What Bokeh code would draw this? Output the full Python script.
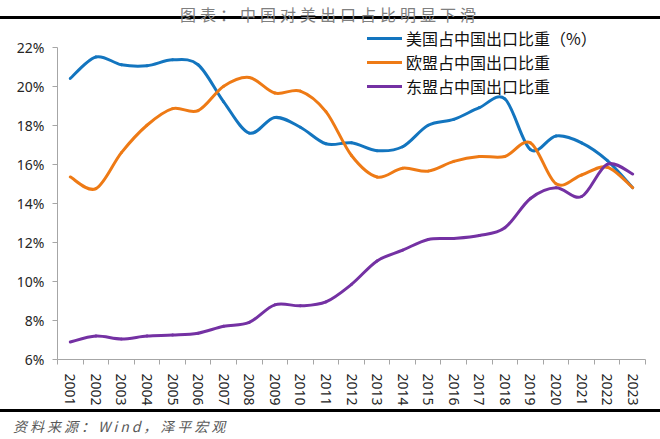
from bokeh.plotting import figure
from bokeh.models import (Div, Range1d, FixedTicker, PrintfTickFormatter,
                          ColumnDataSource)
from bokeh.layouts import column
from bokeh.embed import file_html
from bokeh.resources import INLINE

# ---------------- data ----------------
years = list(range(2001, 2024))
year_labels = [str(y) for y in years]
us_share = [20.4, 21.5, 21.1, 21.05, 21.35, 21.1, 19.2, 17.6, 18.4, 17.9, 17.05, 17.1,
            16.7, 16.9, 18.0, 18.3, 18.9, 19.35, 16.75, 17.45, 17.1, 16.2, 14.8]
eu_share = [15.35, 14.75, 16.6, 18.0, 18.85, 18.75, 20.0, 20.45, 19.65, 19.75, 18.7, 16.45,
            15.35, 15.8, 15.65, 16.15, 16.4, 16.4, 17.1, 15.0, 15.45, 15.85, 14.8]
asean_share = [6.9, 7.2, 7.05, 7.2, 7.25, 7.35, 7.7, 7.9, 8.8, 8.75, 8.95, 9.85,
               11.05, 11.6, 12.15, 12.2, 12.35, 12.75, 14.25, 14.8, 14.35, 16.0, 15.5]
series_names = ["美国占中国出口比重（%）", "欧盟占中国出口比重", "东盟占中国出口比重"]
y_ticks = [6, 8, 10, 12, 14, 16, 18, 20, 22]
title_text = "图表：中国对美出口占比明显下滑"
source_text = "资料来源：Wind，泽平宏观"

colors = ["#1375BF", "#EE7A15", "#7431A3"]
CJK = "Noto Sans CJK SC"
LAT = "Noto Sans"
AXIS_GRAY = "#a6a6a6"


def smooth_source(xs, ys):
    """Cubic Bezier segments (Catmull-Rom style) through the data points."""
    n = len(xs)
    d = dict(x0=[], y0=[], x1=[], y1=[], cx0=[], cy0=[], cx1=[], cy1=[])
    for i in range(n - 1):
        xp, yp = (xs[i - 1], ys[i - 1]) if i > 0 else (xs[i], ys[i])
        xn, yn = (xs[i + 2], ys[i + 2]) if i + 2 < n else (xs[i + 1], ys[i + 1])
        d["x0"].append(xs[i]); d["y0"].append(ys[i])
        d["x1"].append(xs[i + 1]); d["y1"].append(ys[i + 1])
        d["cx0"].append(xs[i] + (xs[i + 1] - xp) / 6.0)
        d["cy0"].append(ys[i] + (ys[i + 1] - yp) / 6.0)
        d["cx1"].append(xs[i + 1] - (xn - xs[i]) / 6.0)
        d["cy1"].append(ys[i + 1] - (yn - ys[i]) / 6.0)
    return ColumnDataSource(d)


# layout constants
PAGE_W = 660
FIG_H = 382
BORDER_B = 50
px_per_unit = 19.52
frame_h = FIG_H - BORDER_B
y_end = y_ticks[0] + frame_h / px_per_unit

p = figure(width=PAGE_W, height=FIG_H, output_backend="svg", toolbar_location=None,
           x_range=Range1d(years[0] - 0.5, years[-1] + 0.5),
           y_range=Range1d(y_ticks[0], y_end),
           min_border_left=57, min_border_right=15, min_border_top=0,
           min_border_bottom=BORDER_B)
p.outline_line_color = None
p.xgrid.visible = False
p.ygrid.visible = False
p.background_fill_color = "white"

for vals, name, col in zip([us_share, eu_share, asean_share], series_names, colors):
    src = smooth_source(years, vals)
    p.bezier(x0="x0", y0="y0", x1="x1", y1="y1", cx0="cx0", cy0="cy0",
             cx1="cx1", cy1="cy1", source=src, line_color=col, line_width=3,
             line_cap="round", legend_label=name)

# x axis
xa = p.xaxis[0]
xa.ticker = FixedTicker(ticks=years, minor_ticks=[y - 0.5 for y in years] + [years[-1] + 0.5])
xa.major_label_overrides = {y: lab for y, lab in zip(years, year_labels)}
xa.major_label_orientation = "vertical"
xa.major_tick_line_color = None
xa.major_tick_out = 0
xa.major_tick_in = 0
xa.minor_tick_line_color = AXIS_GRAY
xa.minor_tick_out = 5
xa.minor_tick_in = 0
xa.axis_line_color = AXIS_GRAY
xa.major_label_standoff = 9
xa.major_label_text_font = LAT
xa.major_label_text_font_size = "14px"
xa.major_label_text_color = "#262626"

# y axis
ya = p.yaxis[0]
ya.ticker = FixedTicker(ticks=y_ticks)
ya.formatter = PrintfTickFormatter(format="%d%%")
ya.bounds = (y_ticks[0], y_ticks[-1])
ya.axis_line_color = AXIS_GRAY
ya.major_tick_line_color = AXIS_GRAY
ya.major_tick_out = 5
ya.major_tick_in = 0
ya.minor_tick_line_color = None
ya.major_label_standoff = 8
ya.major_label_text_font = LAT
ya.major_label_text_font_size = "14px"
ya.major_label_text_color = "#262626"

# legend
lg = p.legend[0]
lg.location = (310, 261)
lg.padding = 0
lg.margin = 0
lg.spacing = -2
lg.label_height = 18
lg.glyph_height = 18
lg.glyph_width = 35
lg.label_standoff = 4
lg.border_line_color = None
lg.background_fill_alpha = 0
lg.label_text_font = CJK
lg.label_text_font_size = "16px"
lg.label_text_color = "#111111"
lg.label_text_baseline = "middle"

top = Div(width=PAGE_W, height=27, margin=(0, 0, 0, 0),
          text=('<div style="width:%dpx;height:19px;padding-top:5px;line-height:19px;'
                'border-bottom:3px solid #000;text-align:center;'
                "font-family:'Noto Sans CJK SC';font-size:16px;letter-spacing:4px;"
                'color:#7f7f7f;white-space:nowrap;">%s</div>') % (PAGE_W, title_text))
bottom = Div(width=PAGE_W, height=30, margin=(0, 0, 0, 0),
             text=('<div style="width:%dpx;height:25px;padding-top:2px;line-height:25px;'
                   'border-top:3px solid #000;'
                   "font-family:'Noto Sans CJK SC';font-size:14px;font-style:italic;"
                   'letter-spacing:3px;color:#595959;white-space:nowrap;">'
                   '<span style="padding-left:13px">%s</span></div>') % (PAGE_W, source_text))

layout = column(top, p, bottom, spacing=0)
open("out.html", "w").write(file_html(layout, INLINE))
